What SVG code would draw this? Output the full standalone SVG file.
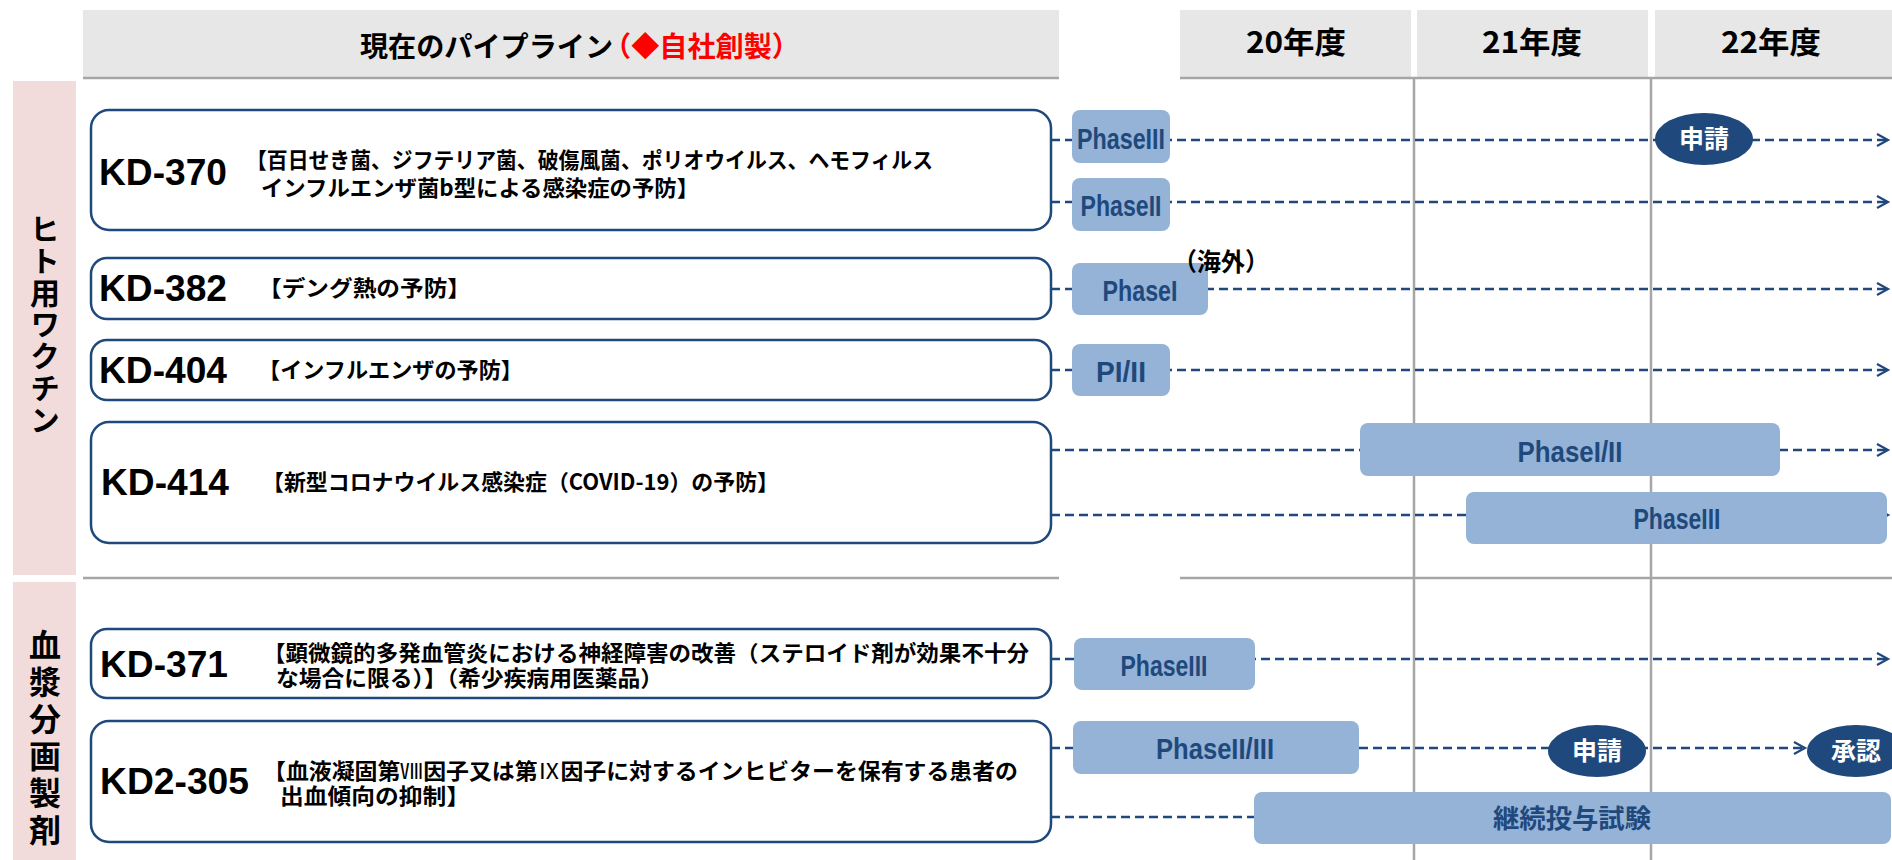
<svg xmlns="http://www.w3.org/2000/svg" width="1892" height="860" viewBox="0 0 1892 860">
<style>
.hdr{fill:#e7e7e7}
.hline{stroke:#a6a6a6;stroke-width:2.5;fill:none}
.pink{fill:#f2dcdb}
.side{font-family:"Noto Sans CJK JP",sans-serif;font-weight:700;font-size:30px;fill:#000;writing-mode:vertical-rl;text-orientation:upright}
.kdbox{fill:#fff;stroke:#1f497d;stroke-width:2.5}
.kd{font-family:"Liberation Sans",Arial,sans-serif;font-weight:700;font-size:36px;fill:#000}
.desc{font-family:"Noto Sans CJK JP",sans-serif;font-weight:700;font-size:22px;fill:#000}
.ph{fill:#95b3d7}
.pht{font-family:"Liberation Sans",Arial,sans-serif;font-weight:700;font-size:30px;fill:#1f497d;text-anchor:middle}
.phj{font-family:"Noto Sans CJK JP",sans-serif;font-weight:700;font-size:26px;fill:#1f497d;text-anchor:middle}
.conn{stroke:#1f497d;stroke-width:2.5;stroke-dasharray:9 5;fill:none}
.ell{fill:#1f497d}
.ellt{font-family:"Noto Sans CJK JP",sans-serif;font-weight:700;font-size:25px;fill:#fff;text-anchor:middle}
.yr{font-family:"Noto Sans CJK JP",sans-serif;font-weight:700;font-size:30px;fill:#000;text-anchor:middle}
.title{font-family:"Noto Sans CJK JP",sans-serif;font-weight:700;font-size:28px;fill:#000}
</style>
<defs>
<marker id="arr" markerWidth="16" markerHeight="16" refX="12" refY="7" orient="auto" markerUnits="userSpaceOnUse">
<path d="M1,1 L12,7 L1,13" fill="none" stroke="#1f497d" stroke-width="2.2" stroke-dasharray="none"/>
</marker>
</defs>

<g id="header">
<rect class="hdr" x="83" y="10" width="976" height="68"/>
<rect class="hdr" x="1180" y="10" width="231" height="68"/>
<rect class="hdr" x="1417" y="10" width="231" height="68"/>
<rect class="hdr" x="1655" y="10" width="237" height="68"/>
<line class="hline" x1="83" y1="78" x2="1059" y2="78"/>
<line class="hline" x1="1180" y1="78" x2="1892" y2="78"/>
<text class="title" y="57"><tspan x="360" textLength="253" lengthAdjust="spacingAndGlyphs">現在のパイプライン</tspan><tspan x="603" textLength="197" lengthAdjust="spacingAndGlyphs" fill="#ff0000">（◆自社創製）</tspan></text>
<text class="yr" x="1296" y="53" textLength="100" lengthAdjust="spacingAndGlyphs">20年度</text>
<text class="yr" x="1532" y="53" textLength="100" lengthAdjust="spacingAndGlyphs">21年度</text>
<text class="yr" x="1771" y="53" textLength="100" lengthAdjust="spacingAndGlyphs">22年度</text>
</g>

<g id="grid">
<line class="hline" x1="1414" y1="78" x2="1414" y2="860"/>
<line class="hline" x1="1651" y1="78" x2="1651" y2="860"/>
<line class="hline" x1="83" y1="578" x2="1059" y2="578"/>
<line class="hline" x1="1180" y1="578" x2="1892" y2="578"/>
</g>

<g id="cat-vaccine">
<rect class="pink" x="13" y="81" width="63" height="494"/>
<text class="side" x="45" y="214" letter-spacing="1.7">ヒト用ワクチン</text>
</g>
<g id="cat-plasma">
<rect class="pink" x="13" y="582" width="63" height="278"/>
<text class="side" x="45" y="629" style="font-size:32px" letter-spacing="5">血漿分画製剤</text>
</g>

<g id="connectors">
<line class="conn" x1="1051" y1="140" x2="1888" y2="140" marker-end="url(#arr)"/>
<line class="conn" x1="1051" y1="202" x2="1888" y2="202" marker-end="url(#arr)"/>
<line class="conn" x1="1051" y1="289" x2="1888" y2="289" marker-end="url(#arr)"/>
<line class="conn" x1="1051" y1="370" x2="1888" y2="370" marker-end="url(#arr)"/>
<line class="conn" x1="1051" y1="450" x2="1888" y2="450" marker-end="url(#arr)"/>
<line class="conn" x1="1051" y1="515" x2="1888" y2="515" marker-end="url(#arr)"/>
<line class="conn" x1="1051" y1="659" x2="1888" y2="659" marker-end="url(#arr)"/>
<line class="conn" x1="1051" y1="748" x2="1805" y2="748" marker-end="url(#arr)"/>
<line class="conn" x1="1051" y1="817" x2="1254" y2="817"/>
</g>

<g id="kd-370">
<rect class="kdbox" x="91" y="110" width="960" height="120" rx="18"/>
<text class="kd" x="99" y="185" textLength="128" lengthAdjust="spacingAndGlyphs">KD-370</text>
<text class="desc"><tspan x="246" y="168" textLength="687" lengthAdjust="spacingAndGlyphs">【百日せき菌、ジフテリア菌、破傷風菌、ポリオウイルス、ヘモフィルス</tspan><tspan x="261" y="196" textLength="438" lengthAdjust="spacingAndGlyphs">インフルエンザ菌b型による感染症の予防】</tspan></text>
</g>
<g id="kd-370-p3"><rect class="ph" x="1072" y="110" width="98" height="53" rx="8"/><text class="pht" x="1121" y="149" textLength="88" lengthAdjust="spacingAndGlyphs">PhaseIII</text></g>
<g id="kd-370-p2"><rect class="ph" x="1072" y="178" width="98" height="53" rx="8"/><text class="pht" x="1121" y="216" textLength="81" lengthAdjust="spacingAndGlyphs">PhaseII</text></g>
<g id="kd-370-filing"><ellipse class="ell" cx="1704" cy="139" rx="49" ry="26"/><text class="ellt" x="1704" y="148">申請</text></g>

<g id="kd-382">
<rect class="kdbox" x="91" y="258" width="960" height="61" rx="16"/>
<text class="kd" x="99" y="301" textLength="128" lengthAdjust="spacingAndGlyphs">KD-382</text>
<text class="desc" x="258" y="296" textLength="213" lengthAdjust="spacingAndGlyphs">【デング熱の予防】</text>
</g>
<g id="kd-382-p1"><rect class="ph" x="1072" y="263" width="136" height="52" rx="8"/><text class="pht" x="1140" y="301" textLength="75" lengthAdjust="spacingAndGlyphs">PhaseI</text></g>
<g id="kd-382-note"><text class="desc" x="1221" y="271" style="font-size:25px" text-anchor="middle" textLength="96" lengthAdjust="spacingAndGlyphs">（海外）</text></g>

<g id="kd-404">
<rect class="kdbox" x="91" y="340" width="960" height="60" rx="16"/>
<text class="kd" x="99" y="383" textLength="128" lengthAdjust="spacingAndGlyphs">KD-404</text>
<text class="desc" x="258" y="378" textLength="265" lengthAdjust="spacingAndGlyphs">【インフルエンザの予防】</text>
</g>
<g id="kd-404-p12"><rect class="ph" x="1072" y="344" width="98" height="52" rx="8"/><text class="pht" x="1121" y="382" textLength="50" lengthAdjust="spacingAndGlyphs">PI/II</text></g>

<g id="kd-414">
<rect class="kdbox" x="91" y="422" width="960" height="121" rx="18"/>
<text class="kd" x="101" y="495" textLength="128" lengthAdjust="spacingAndGlyphs">KD-414</text>
<text class="desc" x="262" y="490" textLength="517" lengthAdjust="spacingAndGlyphs">【新型コロナウイルス感染症（COVID-19）の予防】</text>
</g>
<g id="kd-414-p12"><rect class="ph" x="1360" y="423" width="420" height="53" rx="8"/><text class="pht" x="1570" y="462" textLength="105" lengthAdjust="spacingAndGlyphs">PhaseI/II</text></g>
<g id="kd-414-p3"><rect class="ph" x="1466" y="492" width="421" height="52" rx="8"/><text class="pht" x="1677" y="529" textLength="87" lengthAdjust="spacingAndGlyphs">PhaseIII</text></g>

<g id="kd-371">
<rect class="kdbox" x="91" y="629" width="960" height="69" rx="16"/>
<text class="kd" x="100" y="677" textLength="128" lengthAdjust="spacingAndGlyphs">KD-371</text>
<text class="desc"><tspan x="263" y="661" textLength="766" lengthAdjust="spacingAndGlyphs">【顕微鏡的多発血管炎における神経障害の改善（ステロイド剤が効果不十分</tspan><tspan x="276" y="686" textLength="387" lengthAdjust="spacingAndGlyphs">な場合に限る）】（希少疾病用医薬品）</tspan></text>
</g>
<g id="kd-371-p3"><rect class="ph" x="1074" y="638" width="181" height="52" rx="8"/><text class="pht" x="1164" y="676" textLength="87" lengthAdjust="spacingAndGlyphs">PhaseIII</text></g>

<g id="kd2-305">
<rect class="kdbox" x="91" y="721" width="960" height="121" rx="18"/>
<text class="kd" x="100" y="794" textLength="149" lengthAdjust="spacingAndGlyphs">KD2-305</text>
<text class="desc"><tspan x="263" y="779" textLength="755" lengthAdjust="spacingAndGlyphs">【血液凝固第<tspan font-weight="400">Ⅷ</tspan>因子又は第<tspan font-weight="400">Ⅸ</tspan>因子に対するインヒビターを保有する患者の</tspan><tspan x="280" y="804" textLength="190" lengthAdjust="spacingAndGlyphs">出血傾向の抑制】</tspan></text>
</g>
<g id="kd2-305-p23"><rect class="ph" x="1073" y="721" width="286" height="53" rx="8"/><text class="pht" x="1215" y="759" textLength="118" lengthAdjust="spacingAndGlyphs">PhaseII/III</text></g>
<g id="kd2-305-filing"><ellipse class="ell" cx="1597" cy="751" rx="49" ry="26"/><text class="ellt" x="1597" y="760">申請</text></g>
<g id="kd2-305-approval"><ellipse class="ell" cx="1856" cy="751" rx="49" ry="26"/><text class="ellt" x="1856" y="760">承認</text></g>
<g id="kd2-305-ext"><rect class="ph" x="1254" y="792" width="637" height="52" rx="8"/><text class="phj" x="1572" y="828" textLength="158" lengthAdjust="spacingAndGlyphs">継続投与試験</text></g>
</svg>
